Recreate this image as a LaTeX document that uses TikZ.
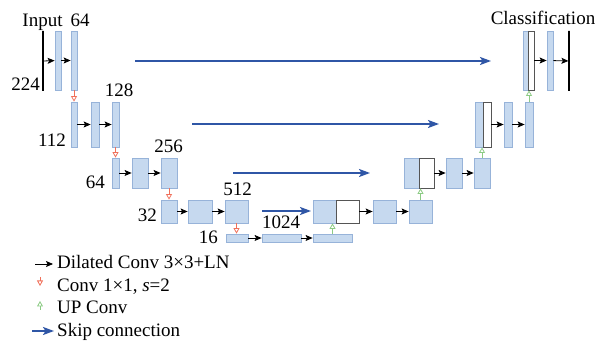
\documentclass[tikz,border=0pt]{standalone}
\usepackage{fontspec}
\setmainfont{Liberation Serif}
\usepackage{tikz}
\usepackage{xcolor}
\usetikzlibrary{arrows.meta}
\definecolor{featfill}{HTML}{C6D9EF}
\definecolor{featline}{HTML}{97B3D9}
\definecolor{catline}{HTML}{555555}
\definecolor{downred}{HTML}{F0705A}
\definecolor{upgreen}{HTML}{8CCB84}
\definecolor{skipblue}{HTML}{2F56A6}
\tikzstyle{feat} = [rectangle, draw=featline, fill=featfill, line width=0.8pt, inner sep=0pt]
\tikzstyle{cat} = [rectangle, draw=catline, fill=white, line width=0.8pt, inner sep=0pt]
\tikzstyle{bar} = [rectangle, draw=black, line width=1.2pt, inner sep=0pt, minimum width=0pt]
\tikzstyle{dil} = [-{Stealth[length=7pt,width=6pt,inset=1.5pt]}, black, line width=0.8pt]
\tikzstyle{down} = [-{Triangle[open,length=5.5pt,width=6pt]}, downred, line width=0.8pt]
\tikzstyle{up} = [-{Triangle[open,length=5.5pt,width=6pt]}, upgreen, line width=0.8pt]
\tikzstyle{skip} = [-{Stealth[length=11pt,width=8pt,inset=2.5pt]}, skipblue, line width=1.7pt]
\tikzstyle{lab} = [font=\fontsize{19}{22}\selectfont, anchor=base, inner sep=0pt]

\begin{document}
\begin{tikzpicture}[x=1pt,y=-1pt]
  \useasboundingbox (0,0) rectangle (608,344);

  % encoder
  \node[bar, minimum height=60] (inp) at (43,61) {};
  \node[feat, minimum width=6, minimum height=59] (e1a) at (58,60.5) {};
  \node[feat, minimum width=6, minimum height=59] (e1b) at (74,60.5) {};
  \node[feat, minimum width=6, minimum height=45] (e2a) at (74,124.5) {};
  \node[feat, minimum width=8, minimum height=45] (e2b) at (95,124.5) {};
  \node[feat, minimum width=7, minimum height=45] (e2c) at (115.5,124.5) {};
  \node[feat, minimum width=7, minimum height=30] (e3a) at (115.5,173) {};
  \node[feat, minimum width=16, minimum height=30] (e3b) at (140,173) {};
  \node[feat, minimum width=16, minimum height=30] (e3c) at (169,173) {};
  \node[feat, minimum width=16, minimum height=23] (e4a) at (169,211.5) {};
  \node[feat, minimum width=24, minimum height=23] (e4b) at (200,211.5) {};
  \node[feat, minimum width=23, minimum height=23] (e4c) at (236.5,211.5) {};

  % bottleneck
  \node[feat, minimum width=22, minimum height=8] (b1) at (237,238) {};
  \node[feat, minimum width=39, minimum height=8] (b2) at (281.5,238) {};
  \node[feat, minimum width=39, minimum height=8] (b3) at (332.5,238) {};

  % decoder
  \node[feat, minimum width=23, minimum height=23] (d4a) at (324.5,211.5) {};
  \node[cat, minimum width=23, minimum height=23] (d4w) at (347.5,211.5) {};
  \node[feat, minimum width=23, minimum height=23] (d4b) at (384.5,211.5) {};
  \node[feat, minimum width=23, minimum height=23] (d4c) at (420.5,211.5) {};
  \node[feat, minimum width=15, minimum height=30] (d3a) at (411.5,173) {};
  \node[cat, minimum width=15, minimum height=30] (d3w) at (426.5,173) {};
  \node[feat, minimum width=16, minimum height=30] (d3b) at (454,173) {};
  \node[feat, minimum width=16, minimum height=30] (d3c) at (482,173) {};
  \node[feat, minimum width=8, minimum height=45] (d2a) at (479,124.5) {};
  \node[cat, minimum width=8, minimum height=45] (d2w) at (487,124.5) {};
  \node[feat, minimum width=8, minimum height=45] (d2b) at (508,124.5) {};
  \node[feat, minimum width=8, minimum height=45] (d2c) at (529,124.5) {};
  \node[feat, minimum width=5, minimum height=59] (d1a) at (525.5,60.5) {};
  \node[cat, minimum width=6, minimum height=59] (d1w) at (531,60.5) {};
  \node[feat, minimum width=6, minimum height=59] (d1b) at (550,60.5) {};
  \node[bar, minimum height=60] (out) at (569,61) {};

  % labels
  \node[lab] (tin) at (42.5,27) {Input};
  \node[lab] (t64a) at (80,27) {64};
  \node[lab, anchor=base east] (t224) at (40,91) {224};
  \node[lab] (t128) at (119,97) {128};
  \node[lab, anchor=base east] (t112) at (66,147) {112};
  \node[lab] (t256) at (168.5,153) {256};
  \node[lab, anchor=base east] (t64b) at (105,189) {64};
  \node[lab] (t512) at (237.5,196) {512};
  \node[lab, anchor=base east] (t32) at (157,222) {32};
  \node[lab, anchor=base east] (t16) at (218,243.5) {16};
  \node[lab] (t1024) at (281,229) {1024};
  \node[lab] (tcls) at (543,25) {Classification};

  % dilated conv
  \draw[dil] (inp) -- (e1a);
  \draw[dil] (e1a) -- (e1b);
  \draw[dil] (e2a) -- (e2b);
  \draw[dil] (e2b) -- (e2c);
  \draw[dil] (e3a) -- (e3b);
  \draw[dil] (e3b) -- (e3c);
  \draw[dil] (e4a) -- (e4b);
  \draw[dil] (e4b) -- (e4c);
  \draw[dil] (b1) -- (b2);
  \draw[dil] (b2) -- (b3);
  \draw[dil] (d4w) -- (d4b);
  \draw[dil] (d4b) -- (d4c);
  \draw[dil] (d3w) -- (d3b);
  \draw[dil] (d3b) -- (d3c);
  \draw[dil] (d2w) -- (d2b);
  \draw[dil] (d2b) -- (d2c);
  \draw[dil] (d1w) -- (d1b);
  \draw[dil] (d1b) -- (out);

  % downsampling
  \draw[down] (e1b.south) -- (e2a.north);
  \draw[down] (e2c.south) -- (e3a.north);
  \draw[down] (e3c.south) -- (e4a.north);
  \draw[down] (e4c.south) -- (e4c.south |- b1.north);

  % upsampling
  \draw[up] (b3.north) -- (b3.north |- d4a.south);
  \draw[up] (d4c.north) -- (d4c.north |- d3a.south);
  \draw[up] (d3c.north) -- (d3c.north |- d2a.south);
  \draw[up] (d2c.north) -- (d2c.north |- d1a.south);

  % skip connections
  \coordinate (s1a) at (135,61);   \coordinate (s1b) at (491,61);
  \coordinate (s2a) at (192,124);  \coordinate (s2b) at (439,124);
  \coordinate (s3a) at (233,173);  \coordinate (s3b) at (370,173);
  \coordinate (s4a) at (262,211);  \coordinate (s4b) at (311,211);
  \draw[skip] (s1a) -- (s1b);
  \draw[skip] (s2a) -- (s2b);
  \draw[skip] (s3a) -- (s3b);
  \draw[skip] (s4a) -- (s4b);

  % legend
  \coordinate (l1a) at (35,264);  \coordinate (l1b) at (53,264);
  \coordinate (l2a) at (40,277);  \coordinate (l2b) at (40,286);
  \coordinate (l3a) at (40,310);  \coordinate (l3b) at (40,301);
  \coordinate (l4a) at (32,331);  \coordinate (l4b) at (54,331);
  \draw[dil] (l1a) -- (l1b);
  \draw[down] (l2a) -- (l2b);
  \draw[up] (l3a) -- (l3b);
  \draw[skip] (l4a) -- (l4b);
  \node[lab, anchor=base west] (g1) at (57,269) {Dilated Conv 3×3+LN};
  \node[lab, anchor=base west] (g2) at (57,291.5) {Conv 1×1, \textit{s}=2};
  \node[lab, anchor=base west] (g3) at (57,314) {UP Conv};
  \node[lab, anchor=base west] (g4) at (57,336.5) {Skip connection};
\end{tikzpicture}
\end{document}
